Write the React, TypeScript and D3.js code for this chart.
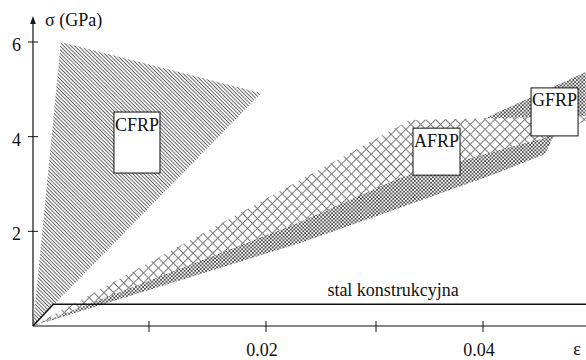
import React from 'react';
import * as d3 from 'd3';

// axis ticks
const xTickValues = [0.01, 0.02, 0.03, 0.04];
const xTickLabels = ['', '0.02', '', '0.04'];
const yTickValues = [2, 4, 6];
const yTickLabels = ['2', '4', '6'];

// regions [strain, stress GPa]
const cfrp: [number, number][] = [[0, 0], [0.0024, 6.0], [0.0196, 4.92]];
const gfrp: [number, number][] = [
  [0, 0], [0.0231, 1.754], [0.0322, 2.493], [0.0416, 3.254], [0.0458, 3.634],
  [0.0468, 4.099], [0.0496, 4.416], [0.0496, 5.366],
];
const afrp: [number, number][] = [
  [0, 0], [0.0332, 4.352], [0.0496, 4.437], [0.0496, 4.332], [0.0458, 3.972],
  [0.0416, 3.719], [0.0322, 3.127], [0.0231, 2.197],
];
const steel: [number, number][] = [[0, 0], [0.00175, 0.46], [0.0497, 0.46]];

// labels
const boxNames = ['CFRP', 'AFRP', 'GFRP'];
const boxEps = [0.00698, 0.03346, 0.04449];
const boxSig = [4.52, 4.18, 5.03];
const boxW = [46, 47, 47];
const boxH = [61, 47, 48];
const steelLabel = 'stal konstrukcyjna';
const steelLabelPos: [number, number] = [0.0316, 0.46];

const xScale = d3.scaleLinear()
  .domain([0, 0.01, 0.02, 0.03, 0.04, 0.05])
  .range([33, 149, 266, 376, 483, 590]);
const yScale = d3.scaleLinear().domain([0, 6]).range([326, 42]);

const line = d3.line<[number, number]>()
  .x(d => xScale(d[0]))
  .y(d => yScale(d[1]));

const FONT = 'Liberation Serif, DejaVu Serif, serif';

export default function App() {
  const x0 = xScale(0);
  const y0 = yScale(0);
  const T = (p: any) => <text fontFamily={FONT} fontSize={18} fill="#111" {...p} />;
  return (
    <svg width={586} height={360} fontFamily={FONT}
      style={{ position: 'absolute', left: 0, top: 0, background: '#fff', fontFamily: FONT }}>
      <defs>
        <pattern id="hatch" width={2.6} height={2.6} patternUnits="userSpaceOnUse" patternTransform="rotate(45)">
          <line x1={0} y1={0.5} x2={2.6} y2={0.5} stroke="#555" strokeWidth={0.9} />
        </pattern>
        <pattern id="cross" width={7} height={7} patternUnits="userSpaceOnUse" patternTransform="rotate(45)">
          <rect width={7} height={7} fill="#fff" />
          <path d="M0,0.5 H7 M0.5,0 V7" stroke="#7a7a7a" strokeWidth={1} />
        </pattern>
        <pattern id="dots" width={3.6} height={3.6} patternUnits="userSpaceOnUse">
          <circle cx={0.9} cy={0.9} r={0.85} fill="#000" />
          <circle cx={2.7} cy={2.7} r={0.85} fill="#000" />
        </pattern>
      </defs>

      <path d={line(cfrp) + 'Z'} fill="url(#hatch)" />
      <path d={line(gfrp) + 'Z'} fill="url(#dots)" />
      <path d={line(afrp) + 'Z'} fill="url(#cross)" />

      <path d={line(steel) || ''} fill="none" stroke="#111" strokeWidth={1.5} />
      {T({ x: xScale(steelLabelPos[0]), y: yScale(steelLabelPos[1]) - 8, textAnchor: 'middle', children: steelLabel })}

      {/* x axis */}
      <line x1={x0} y1={y0} x2={586} y2={y0} stroke="#111" strokeWidth={1.2} />
      {xTickValues.map((v, i) => (
        <g key={'xt' + i}>
          <line x1={xScale(v)} x2={xScale(v)} y1={y0 - 5} y2={y0 + 6} stroke="#111" strokeWidth={1} />
          {xTickLabels[i] && T({ x: xScale(v) - 4, y: 356, textAnchor: 'middle', children: xTickLabels[i] })}
        </g>
      ))}
      {T({ x: 577, y: 355, textAnchor: 'middle', children: 'ε' })}

      {/* y axis */}
      <line x1={x0} y1={y0} x2={x0} y2={22} stroke="#111" strokeWidth={1.2} />
      <path d={`M${x0},16 L${x0 - 2.8},24 L${x0 + 2.8},24 Z`} fill="#111" />
      {yTickValues.map((v, i) => (
        <g key={'yt' + i}>
          <line x1={x0 - 5} x2={x0 + 5} y1={yScale(v)} y2={yScale(v)} stroke="#111" strokeWidth={1} />
          {T({ x: 21, y: yScale(v) + 9, textAnchor: 'end', children: yTickLabels[i] })}
        </g>
      ))}
      {T({ x: 45, y: 26, children: 'σ (GPa)' })}

      {/* material label boxes */}
      {boxNames.map((n, i) => {
        const bx = xScale(boxEps[i]);
        const by = yScale(boxSig[i]);
        return (
          <g key={n}>
            <rect x={bx} y={by} width={boxW[i]} height={boxH[i]} fill="#fff" stroke="#111" strokeWidth={1} />
            {T({ x: bx + boxW[i] / 2, y: by + 18.5, textAnchor: 'middle', children: n })}
          </g>
        );
      })}
    </svg>
  );
}
